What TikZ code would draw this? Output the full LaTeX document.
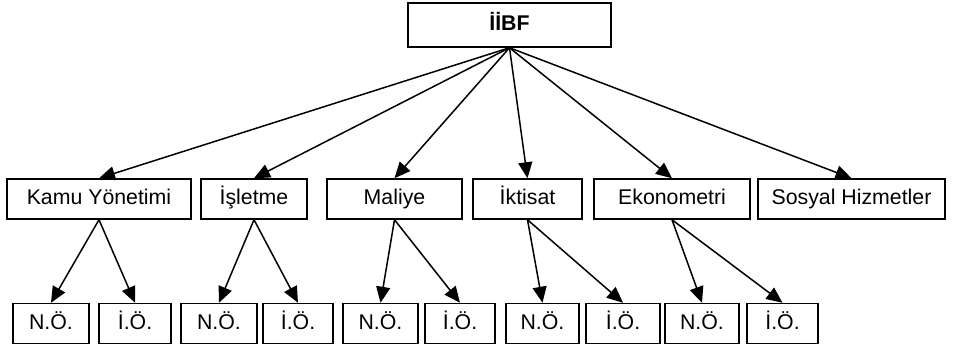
\documentclass[tikz,border=0pt]{standalone}
\usepackage{fontspec}
\setmainfont{Liberation Sans}
\usetikzlibrary{arrows.meta}
\tikzset{
	kutu/.style={draw, line width=1.5pt, inner sep=0pt, minimum height=40pt, text height=15pt, text depth=4pt, font=\fontsize{21.3}{25}\selectfont},
	ok/.style={line width=1.5pt, -{Triangle[length=16pt,width=14pt]}}
}
\begin{document}
\begin{tikzpicture}[x=1pt,y=-1pt]
	\useasboundingbox (0,0) rectangle (953,348);
%					Üst kutu :
	\node[kutu, minimum width=203pt, minimum height=44pt, font=\fontsize{21.3}{25}\selectfont\bfseries] (iibf) at (509.5,25) {İİBF};
%					Bölümler :
	\node[kutu, minimum width=184pt] (kamu) at (99,199) {Kamu Yönetimi};
	\node[kutu, minimum width=106pt] (isletme) at (254,199) {İşletme};
	\node[kutu, minimum width=135pt] (maliye) at (394.5,199) {Maliye};
	\node[kutu, minimum width=109pt] (iktisat) at (527.5,199) {İktisat};
	\node[kutu, minimum width=156pt] (ekonometri) at (672,199) {Ekonometri};
	\node[kutu, minimum width=187pt] (sosyal) at (851.5,199) {Sosyal Hizmetler};
%					Öğretim türleri :
	\node[kutu, minimum width=76pt] (no1) at (51,323.5) {N.Ö.};
	\node[kutu, minimum width=72pt] (io1) at (135,323.5) {İ.Ö.};
	\node[kutu, minimum width=76pt] (no2) at (219,323.5) {N.Ö.};
	\node[kutu, minimum width=70pt] (io2) at (298,323.5) {İ.Ö.};
	\node[kutu, minimum width=75pt] (no3) at (380.5,323.5) {N.Ö.};
	\node[kutu, minimum width=70pt] (io3) at (460,323.5) {İ.Ö.};
	\node[kutu, minimum width=73pt] (no4) at (542.5,323.5) {N.Ö.};
	\node[kutu, minimum width=74pt] (io4) at (623,323.5) {İ.Ö.};
	\node[kutu, minimum width=74pt] (no5) at (702,323.5) {N.Ö.};
	\node[kutu, minimum width=71pt] (io5) at (782.5,323.5) {İ.Ö.};
%					Oklar :
	\foreach \b in {kamu,isletme,maliye,iktisat,ekonometri,sosyal}
		\draw[ok] (iibf.south) -- (\b.north);
	\draw[ok] (kamu.south) -- (no1.north);
	\draw[ok] (kamu.south) -- (io1.north);
	\draw[ok] (isletme.south) -- (no2.north);
	\draw[ok] (isletme.south) -- (io2.north);
	\draw[ok] (maliye.south) -- (no3.north);
	\draw[ok] (maliye.south) -- (io3.north);
	\draw[ok] (iktisat.south) -- (no4.north);
	\draw[ok] (iktisat.south) -- (io4.north);
	\draw[ok] (ekonometri.south) -- (no5.north);
	\draw[ok] (ekonometri.south) -- (io5.north);
\end{tikzpicture}
\end{document}
